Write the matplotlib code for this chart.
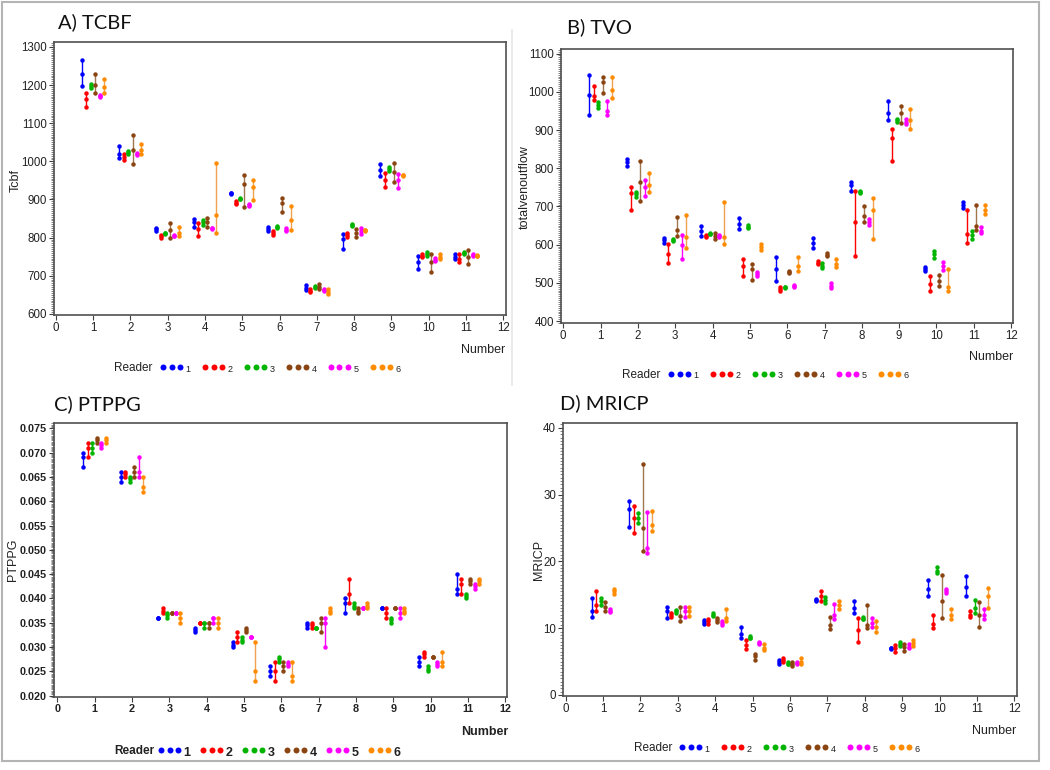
import matplotlib
matplotlib.use("Agg")
import matplotlib.pyplot as plt
from matplotlib.ticker import MultipleLocator
from matplotlib.lines import Line2D
from matplotlib.patches import Rectangle

# ---------------- data ----------------
subjects = list(range(1, 12))
readers = [1, 2, 3, 4, 5, 6]
reader_colors = ["#0000ff", "#ff0000", "#00b400", "#8b4513", "#ff00ff", "#ff8c00"]
line_colors = ["#0000ff", "#ff0000", "#00b400", "#a07850", "#ff00ff", "#f0a050"]
x_ticks = list(range(0, 13))

# each subject: 6 readers x 3 repeated measurements
tcbf = [
    [(1197, 1228, 1265), (1143, 1163, 1178), (1192, 1198, 1204), (1178, 1200, 1230), (1170, 1172, 1174), (1180, 1195, 1217)],
    [(1010, 1020, 1040), (1003, 1012, 1020), (1020, 1025, 1028), (993, 1030, 1070), (1017, 1020, 1022), (1018, 1030, 1045)],
    [(818, 822, 825), (800, 804, 808), (810, 812, 813), (799, 820, 838), (803, 805, 806), (805, 812, 828)],
    [(827, 840, 850), (803, 822, 838), (833, 840, 847), (828, 840, 852), (823, 825, 826), (812, 860, 995)],
    [(914, 916, 918), (887, 892, 897), (900, 902, 904), (880, 940, 965), (883, 885, 887), (899, 932, 952)],
    [(818, 823, 829), (807, 812, 817), (825, 828, 830), (868, 890, 903), (818, 821, 824), (820, 845, 884)],
    [(663, 668, 676), (658, 661, 664), (668, 670, 672), (664, 670, 678), (660, 662, 664), (653, 658, 666)],
    [(770, 797, 810), (802, 807, 812), (831, 833, 835), (801, 812, 822), (810, 818, 825), (818, 820, 821)],
    [(962, 978, 993), (932, 950, 970), (975, 980, 985), (945, 972, 995), (930, 950, 968), (961, 963, 965)],
    [(718, 735, 752), (748, 752, 756), (752, 756, 762), (710, 735, 756), (738, 742, 746), (743, 750, 758)],
    [(744, 750, 756), (735, 745, 758), (756, 760, 763), (732, 750, 767), (753, 755, 757), (751, 752, 754)],
]

tvo = [
    [(940, 992, 1045), (978, 990, 1015), (958, 965, 973), (998, 1025, 1040), (940, 950, 975), (985, 1005, 1040)],
    [(805, 815, 825), (690, 735, 752), (725, 732, 738), (715, 765, 820), (728, 752, 768), (738, 755, 787)],
    [(605, 612, 618), (553, 575, 602), (610, 613, 615), (622, 638, 672), (562, 600, 625), (590, 620, 677)],
    [(622, 635, 650), (620, 623, 626), (627, 628, 630), (615, 622, 630), (619, 622, 625), (603, 620, 712)],
    [(640, 655, 670), (518, 545, 562), (643, 647, 652), (508, 535, 550), (518, 522, 528), (585, 595, 603)],
    [(505, 535, 568), (478, 483, 488), (486, 488, 490), (525, 528, 531), (489, 492, 495), (530, 545, 568)],
    [(590, 605, 618), (550, 553, 556), (538, 545, 553), (570, 573, 577), (486, 492, 500), (542, 550, 562)],
    [(740, 755, 765), (570, 660, 740), (735, 737, 740), (658, 675, 700), (652, 660, 668), (614, 690, 722)],
    [(925, 945, 975), (820, 880, 903), (922, 925, 928), (918, 945, 962), (915, 922, 928), (903, 925, 955)],
    [(530, 536, 542), (478, 497, 518), (565, 575, 583), (493, 505, 520), (533, 545, 555), (480, 490, 537)],
    [(697, 705, 712), (605, 628, 690), (615, 625, 637), (638, 650, 703), (630, 637, 645), (680, 690, 703)],
]

ptppg = [
    [(0.067, 0.069, 0.070), (0.069, 0.071, 0.072), (0.070, 0.071, 0.072), (0.072, 0.0725, 0.073), (0.071, 0.0715, 0.072), (0.072, 0.0725, 0.073)],
    [(0.064, 0.065, 0.066), (0.065, 0.0655, 0.066), (0.064, 0.0645, 0.065), (0.065, 0.066, 0.067), (0.065, 0.066, 0.069), (0.062, 0.063, 0.065)],
    [(0.036, 0.036, 0.036), (0.037, 0.0375, 0.038), (0.036, 0.0365, 0.037), (0.037, 0.037, 0.037), (0.037, 0.037, 0.037), (0.035, 0.036, 0.037)],
    [(0.033, 0.0335, 0.034), (0.035, 0.035, 0.035), (0.034, 0.035, 0.035), (0.034, 0.035, 0.035), (0.035, 0.036, 0.036), (0.034, 0.035, 0.036)],
    [(0.030, 0.0305, 0.031), (0.031, 0.032, 0.033), (0.031, 0.0315, 0.032), (0.033, 0.0335, 0.034), (0.032, 0.032, 0.032), (0.023, 0.025, 0.031)],
    [(0.024, 0.025, 0.026), (0.023, 0.025, 0.027), (0.027, 0.0275, 0.028), (0.025, 0.026, 0.027), (0.026, 0.0265, 0.027), (0.023, 0.024, 0.027)],
    [(0.034, 0.0345, 0.035), (0.034, 0.0345, 0.035), (0.034, 0.034, 0.034), (0.033, 0.035, 0.036), (0.030, 0.035, 0.036), (0.037, 0.0375, 0.038)],
    [(0.037, 0.039, 0.040), (0.039, 0.041, 0.044), (0.038, 0.0385, 0.039), (0.037, 0.0375, 0.038), (0.038, 0.038, 0.038), (0.038, 0.0385, 0.039)],
    [(0.038, 0.038, 0.038), (0.036, 0.037, 0.038), (0.035, 0.0355, 0.036), (0.038, 0.038, 0.038), (0.036, 0.037, 0.038), (0.037, 0.0375, 0.038)],
    [(0.026, 0.027, 0.028), (0.028, 0.0285, 0.029), (0.025, 0.0255, 0.026), (0.028, 0.028, 0.028), (0.026, 0.0265, 0.027), (0.026, 0.027, 0.029)],
    [(0.041, 0.042, 0.045), (0.041, 0.043, 0.044), (0.040, 0.0405, 0.041), (0.043, 0.0435, 0.044), (0.042, 0.0425, 0.043), (0.043, 0.0435, 0.044)],
]

mricp = [
    [(11.7, 12.5, 14.5), (12.5, 13.5, 15.5), (13.4, 14.0, 14.5), (12.5, 13.2, 13.9), (12.4, 12.6, 12.8), (15.1, 15.5, 15.9)],
    [(25.2, 27.8, 29.0), (24.3, 26.5, 28.3), (25.7, 26.5, 27.3), (21.5, 25.0, 34.5), (21.2, 22.0, 27.4), (24.5, 25.5, 27.5)],
    [(11.5, 12.5, 13.2), (11.6, 12.0, 12.2), (12.3, 12.5, 12.7), (11.0, 11.8, 13.2), (11.7, 12.5, 13.2), (11.8, 12.5, 13.2)],
    [(10.6, 10.9, 11.2), (10.6, 11.0, 11.4), (11.8, 12.0, 12.2), (10.9, 11.2, 11.5), (10.4, 10.8, 11.1), (11.0, 11.5, 12.9)],
    [(8.6, 9.2, 10.2), (6.9, 7.5, 8.2), (8.5, 8.6, 8.8), (5.3, 5.8, 6.2), (7.7, 7.8, 8.0), (6.7, 7.1, 7.7)],
    [(4.7, 5.0, 5.3), (5.0, 5.3, 5.5), (4.6, 4.7, 4.9), (4.3, 4.6, 4.9), (4.6, 4.8, 5.0), (4.7, 5.0, 5.5)],
    [(14.1, 14.2, 14.4), (14.0, 14.8, 15.5), (13.8, 14.2, 14.6), (9.9, 10.5, 11.6), (11.3, 12.0, 13.6), (12.8, 13.4, 14.0)],
    [(12.3, 13.0, 14.0), (8.0, 9.7, 11.5), (11.3, 11.4, 11.6), (10.0, 10.5, 13.5), (10.2, 10.8, 11.5), (9.5, 10.2, 11.0)],
    [(6.9, 7.0, 7.1), (6.5, 7.0, 7.5), (7.4, 7.6, 7.9), (6.6, 7.2, 7.7), (7.0, 7.2, 7.6), (7.4, 7.8, 8.2)],
    [(14.8, 15.8, 17.2), (10.0, 10.6, 11.9), (18.2, 18.6, 19.1), (11.5, 14.0, 18.0), (15.2, 15.5, 15.8), (11.3, 12.0, 12.8)],
    [(14.8, 16.2, 17.8), (11.6, 12.0, 12.6), (12.3, 13.0, 14.2), (10.1, 12.0, 13.9), (11.4, 12.0, 12.8), (13.0, 14.8, 16.0)],
]

# ---------------- layout ----------------
W, H = 1050, 770
fig = plt.figure(figsize=(W / 100, H / 100), dpi=100)


def fx(px):
    return px / W


def fy(py):
    return 1 - py / H


def rect(l, t, r, b):
    return [fx(l), fy(b), (r - l) / W, (b - t) / H]


# outer light frame
fig.patches.append(Rectangle((fx(2), fy(761)), (1039 - 2) / W, (761 - 2) / H,
                             transform=fig.transFigure, fill=False,
                             edgecolor="#b4b4b4", linewidth=1.5))
fig.lines.append(Line2D([fx(512), fx(512)], [fy(30), fy(385)], transform=fig.transFigure,
                        color="#e6e6e6", linewidth=1.2))

panels = [
    dict(data=tcbf, title="A) TCBF", tpos=(58, 22), box=(54, 42, 506, 315),
         xlim=(-0.045, 12.07), ylim=(597, 1313), ymaj=100, ymin=5, yfmt="{:.0f}",
         ylabel="Tcbf", ylpos=(16, 180), numpos=(483, 350), legpos=(133, 368, 163),
         bold=False),
    dict(data=tvo, title="B) TVO", tpos=(567, 27), box=(561, 49, 1013, 323),
         xlim=(-0.06, 12.05), ylim=(395, 1112), ymaj=100, ymin=5, yfmt="{:.0f}",
         ylabel="totalvenoutflow", ylpos=(525, 187), numpos=(991, 357), legpos=(641, 375, 671),
         bold=False),
    dict(data=ptppg, title="C) PTPPG", tpos=(54, 404), box=(54, 423, 507, 697),
         xlim=(-0.09, 12.05), ylim=(0.0197, 0.0761), ymaj=0.005, ymin=0.00025, yfmt="{:.3f}",
         ylabel="PTPPG", ylpos=(13, 560), numpos=(485, 732), legpos=(134, 751, 161),
         bold=True),
    dict(data=mricp, title="D) MRICP", tpos=(560, 403), box=(563, 423, 1017, 696),
         xlim=(-0.07, 12.07), ylim=(-0.15, 40.7), ymaj=10, ymin=0.5, yfmt="{:.0f}",
         ylabel="MRICP", ylpos=(539, 560), numpos=(994, 731), legpos=(653, 748, 682),
         bold=False),
]

offsets = [-0.3 + 0.12 * i for i in range(6)]
tick_font = "Liberation Sans"

for p in panels:
    ax = fig.add_axes(rect(*p["box"]))
    data = p["data"]
    for si, subj in enumerate(subjects):
        for ri, rd in enumerate(readers):
            vals = data[si][ri]
            x = subj + offsets[ri]
            ax.plot([x, x], [min(vals), max(vals)], color=line_colors[ri], linewidth=1.0,
                    solid_capstyle="butt", zorder=2)
            ax.plot([x] * len(vals), vals, linestyle="none", marker="o", markersize=3.2,
                    color=reader_colors[ri], markeredgewidth=0, zorder=3)
    ax.set_xlim(*p["xlim"])
    ax.set_ylim(*p["ylim"])
    ax.set_xticks(x_ticks)
    ax.yaxis.set_major_locator(MultipleLocator(p["ymaj"]))
    ax.yaxis.set_minor_locator(MultipleLocator(p["ymin"]))
    fmt = p["yfmt"]
    ax.yaxis.set_major_formatter(matplotlib.ticker.FuncFormatter(lambda v, pos, f=fmt: f.format(v)))
    for s in ax.spines.values():
        s.set_color("#505050")
        s.set_linewidth(1.2)
    ax.tick_params(axis="both", which="major", direction="out", length=3.5, width=0.8,
                   colors="#404040", labelcolor="#222222", pad=1.5)
    ax.tick_params(axis="y", which="minor", direction="out", length=2, width=0.6, colors="#707070")
    weight = "bold" if p["bold"] else "normal"
    for lab in ax.get_xticklabels() + ax.get_yticklabels():
        lab.set_fontfamily(tick_font)
        lab.set_fontsize(7.8 if p["bold"] else 8.3)
        lab.set_fontweight(weight)

    fig.text(fx(p["tpos"][0]), fy(p["tpos"][1]), p["title"], fontsize=14.5, family="Lato",
             ha="left", va="center", color="#111111")
    fig.text(fx(p["ylpos"][0]), fy(p["ylpos"][1]), p["ylabel"], rotation=90, fontsize=9,
             family=tick_font, ha="center", va="center", color="#222222")
    fig.text(fx(p["numpos"][0]), fy(p["numpos"][1]), "Number", fontsize=9,
             family=tick_font, ha="center", va="center", color="#222222",
             fontweight="bold" if p["bold"] else "normal")

    # reader legend
    lx, ly, mx0 = p["legpos"]
    fig.text(fx(lx), fy(ly), "Reader", fontsize=8.5, family=tick_font, ha="center", va="center",
             color="#222222", fontweight="bold" if p["bold"] else "normal")
    for ri, rd in enumerate(readers):
        gx = mx0 + 42 * ri
        for k in range(3):
            fig.lines.append(Line2D([fx(gx + 8.5 * k)], [fy(ly - 1)], transform=fig.transFigure,
                                    marker="o", markersize=4.3, color=reader_colors[ri],
                                    markeredgewidth=0, linestyle="none"))
        if p["bold"]:
            fig.text(fx(gx + 26), fy(ly + 2), str(rd), fontsize=9, family=tick_font,
                     fontweight="bold", ha="center", va="center", color="#222222")
        else:
            fig.text(fx(gx + 25), fy(ly + 1), str(rd), fontsize=6.5, family=tick_font,
                     ha="center", va="center", color="#222222")

fig.savefig("out.png", dpi=100)
